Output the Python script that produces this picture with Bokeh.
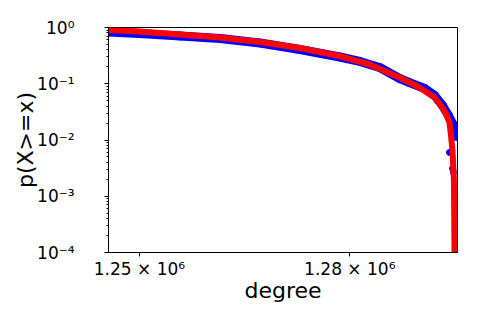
from bokeh.plotting import figure
from bokeh.models import Range1d, FixedTicker, CustomJSTickFormatter
from bokeh.embed import file_html
from bokeh.resources import INLINE

blue_x = [1.24565e6, 1.25e6, 1.25577e6, 1.26144e6, 1.26712e6, 1.27283e6, 1.27856e6,
          1.28144e6, 1.28432e6, 1.28722e6, 1.28866e6, 1.29084e6, 1.29229e6, 1.29345e6,
          1.29432e6, 1.29491e6, 1.29534e6, 1.29549e6]
blue_y = [0.832, 0.782, 0.706, 0.637, 0.530, 0.406, 0.299,
          0.249, 0.194, 0.124, 0.105, 0.0823, 0.0618, 0.0411,
          0.0273, 0.0197, 0.0142, 0.0115]
# stray blue points in the tail
blue_tail_x = [1.29447e6, 1.29491e6, 1.29505e6]
blue_tail_y = [0.0060, 0.00311, 0.00264]

# fitted curve (red)
red_x = [1.24565e6, 1.25e6, 1.25577e6, 1.26144e6, 1.26712e6, 1.27283e6, 1.27856e6,
         1.28288e6, 1.28722e6, 1.29010e6, 1.29229e6, 1.29374e6, 1.29447e6, 1.29469e6,
         1.29491e6, 1.29512e6, 1.29527e6]
red_y = [0.903, 0.849, 0.751, 0.664, 0.552, 0.432, 0.311,
         0.220, 0.129, 0.0858, 0.0570, 0.0334, 0.0205, 0.012,
         0.0065, 0.0019, 1e-5]

x_ticks = [1.25e6, 1.28e6]
y_ticks = [1e-4, 1e-3, 1e-2, 1e-1, 1.0]

FONT = "DejaVu Sans"

p = figure(x_axis_type="log", y_axis_type="log",
           frame_width=349, frame_height=225,
           min_border_left=108, min_border_right=15,
           min_border_top=27, min_border_bottom=58,
           output_backend="svg", toolbar_location=None,
           x_range=Range1d(1.24565e6, 1.29564e6), y_range=Range1d(1e-4, 1.0))

p.grid.visible = False
p.outline_line_color = "black"
p.outline_line_width = 1
p.background_fill_color = "white"
p.border_fill_color = "white"

p.line(blue_x, blue_y, line_color="#0000ff", line_width=9)
p.scatter(blue_x, blue_y, marker="circle", size=8, fill_color="#0000ff", line_color="#0000ff")
p.scatter(blue_tail_x, blue_tail_y, marker="circle", size=6, fill_color="#0000ff", line_color="#0000ff")
p.line(red_x, red_y, line_color="#ff0000", line_width=6)

minor = []
for e in range(-4, 0):
    for k in range(2, 10):
        minor.append(k * 10.0 ** e)

p.yaxis.ticker = FixedTicker(ticks=y_ticks, minor_ticks=minor)
p.xaxis.ticker = FixedTicker(ticks=x_ticks, minor_ticks=[])

sup_js = """
const sup = {'-':'\u207b','0':'\u2070','1':'\u00b9','2':'\u00b2','3':'\u00b3','4':'\u2074','5':'\u2075','6':'\u2076','7':'\u2077','8':'\u2078','9':'\u2079'};
"""
p.yaxis.formatter = CustomJSTickFormatter(code=sup_js + """
const e = Math.round(Math.log10(tick));
return '10' + String(e).split('').map(c => sup[c]).join('');
""")
p.xaxis.formatter = CustomJSTickFormatter(code=sup_js + """
const e = Math.floor(Math.log10(tick) + 1e-9);
const m = tick / Math.pow(10, e);
return m.toFixed(2) + ' \u00d7 10' + String(e).split('').map(c => sup[c]).join('');
""")

for ax in (p.xaxis[0], p.yaxis[0]):
    ax.axis_line_color = "black"
    ax.major_tick_line_color = "black"
    ax.minor_tick_line_color = "black"
    ax.major_tick_in = 0
    ax.major_tick_out = 4
    ax.minor_tick_in = 0
    ax.minor_tick_out = 2
    ax.major_label_text_font = FONT
    ax.major_label_text_font_size = "17px"
    ax.major_label_text_color = "black"
    ax.axis_label_text_font = FONT
    ax.axis_label_text_font_size = "22px"
    ax.axis_label_text_font_style = "normal"
    ax.axis_label_text_color = "black"

p.xaxis.axis_label = "degree"
p.yaxis.axis_label = "p(X>=x)"
p.yaxis.major_label_standoff = 30
p.xaxis.major_label_standoff = 2
p.xaxis.axis_label_standoff = -4
p.yaxis.axis_label_standoff = -4

open("out.html", "w").write(file_html(p, INLINE))
